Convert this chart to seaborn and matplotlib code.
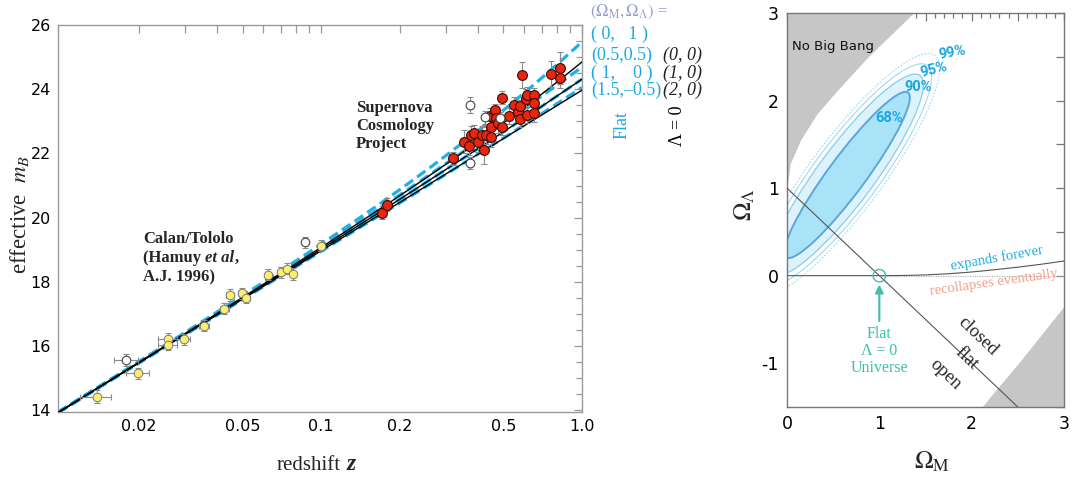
import numpy as np
import pandas as pd
import matplotlib
matplotlib.use("Agg")
import matplotlib.pyplot as plt
import seaborn as sns
from matplotlib.patches import Ellipse
from matplotlib.ticker import FixedLocator, FuncFormatter, MultipleLocator, NullFormatter

# ---------------- data ----------------
# Calan/Tololo supernovae
ct_z = [0.0138, 0.0179, 0.0198, 0.0258, 0.0258, 0.0297, 0.0357, 0.0426, 0.0446,
        0.0497, 0.0516, 0.0625, 0.0703, 0.0743, 0.0783, 0.0871, 0.1000]
ct_m = [14.42, 15.56, 15.15, 16.23, 16.05, 16.22, 16.63, 17.16, 17.59,
        17.65, 17.51, 18.22, 18.30, 18.41, 18.24, 19.23, 19.13]
ct_dm = [0.20, 0.19, 0.18, 0.18, 0.18, 0.17, 0.17, 0.17, 0.18,
         0.17, 0.17, 0.17, 0.17, 0.17, 0.18, 0.17, 0.17]
ct_dz = [0.0019, 0.0019, 0.0020, 0.0022, 0.0022, 0.0016, 0.0016, 0.0016, 0.0016,
         0.0016, 0.0016, 0.0016, 0.0016, 0.0016, 0.0016, 0.0016, 0.0016]
ct_open = [False, True, False, False, False, False, False, False, False,
           False, False, False, False, False, False, True, False]

# Supernova Cosmology Project supernovae
scp_z = [0.171, 0.179, 0.319, 0.352, 0.370, 0.371, 0.371, 0.376, 0.387, 0.398, 0.413,
         0.422, 0.429, 0.426, 0.448, 0.447, 0.445, 0.455, 0.463, 0.470, 0.478,
         0.486, 0.492, 0.494, 0.524, 0.548, 0.569, 0.577, 0.579, 0.589, 0.610,
         0.616, 0.614, 0.653, 0.653, 0.653, 0.759, 0.826, 0.826]
scp_m = [20.15, 20.41, 21.85, 22.37, 22.24, 21.70, 23.52, 22.57, 22.63, 22.35, 22.56,
         22.12, 22.56, 23.12, 22.50, 22.83, 23.18, 23.15, 23.34, 23.10, 22.94,
         23.10, 22.83, 23.73, 23.16, 23.51, 23.28, 23.47, 23.07, 24.45, 23.71,
         23.81, 23.19, 23.83, 23.56, 23.27, 24.48, 24.66, 24.34]
scp_dm = [0.20, 0.20, 0.20, 0.35, 0.30, 0.18, 0.25, 0.30, 0.25, 0.30, 0.30,
          0.45, 0.25, 0.20, 0.30, 0.30, 0.25, 0.25, 0.20, 0.25, 0.30,
          0.20, 0.25, 0.20, 0.25, 0.25, 0.30, 0.20, 0.25, 0.40, 0.30,
          0.25, 0.25, 0.20, 0.25, 0.30, 0.40, 0.50, 0.30]
scp_open = [False, False, False, False, False, True, True, False, False, False, False,
            False, False, True, False, False, False, False, False, False, False,
            True, False, False, False, False, False, False, False, False, False,
            False, False, False, False, False, False, False, False]

# cosmological models (Omega_M, Omega_Lambda)
flat_om = [0.0, 0.5, 1.0, 1.5]
flat_ol = [1.0, 0.5, 0.0, -0.5]
lam0_om = [0.0, 1.0, 2.0]
lam0_ol = [0.0, 0.0, 0.0]
M_SCRIPT = 23.97  # magnitude zero point of the model curves

# confidence regions (ellipse approximations) in (Omega_M, Omega_Lambda)
conf_labels = ["99%", "95%", "90%", "68%"]
conf_cx = [0.64, 0.64, 0.64, 0.65]
conf_cy = [1.15, 1.15, 1.15, 1.15]
conf_a = [1.67, 1.53, 1.39, 1.15]
conf_b = [0.40, 0.36, 0.31, 0.205]
conf_angle = [55, 55, 55, 55]
conf_lab_x = [1.79, 1.59, 1.42, 1.11]
conf_lab_y = [2.55, 2.35, 2.16, 1.80]

# "No Big Bang" boundary
nbb_om = [0.0, 0.036, 0.144, 0.325, 0.54, 0.87, 1.37]
nbb_ol = [1.0, 1.28, 1.545, 1.85, 2.11, 2.49, 3.0]
# lower-right excluded region boundary
lr_om = [2.11, 2.53, 3.0]
lr_ol = [-1.5, -0.97, -0.35]
# expands forever / recollapses boundary
exp_om = [0.0, 1.0, 1.25, 1.5, 1.75, 2.0, 2.25, 2.5, 2.75, 3.0]
exp_ol = [0.0, 0.0, 0.002, 0.0085, 0.022, 0.042, 0.068, 0.097, 0.13, 0.167]
# flat universe line
flatline_om = [0.0, 2.5]
flatline_ol = [1.0, -1.5]

# ---------------- style ----------------
sns.set_theme(style="white")
plt.rcParams["font.family"] = ["DejaVu Sans"]
plt.rcParams["mathtext.fontset"] = "stix"
SERIF = ["Liberation Serif", "DejaVu Serif"]
CYAN = "#1fb0e6"
TXTCYAN = "#1ea9e1"
TEAL = "#3dbfae"
SPINE = "#9a9a9a"

W, H = 1072, 479
fig = plt.figure(figsize=(W / 100, H / 100), dpi=100)
fig.patch.set_facecolor("white")


def fx(x):
    return x / W


def fy(y):
    return 1 - y / H


# ================= left panel =================
ax = fig.add_axes([58 / W, 1 - 412 / H, (582 - 58) / W, (412 - 25) / H])
ax.set_xscale("log")
ax.set_xlim(0.0098, 1.0)
ax.set_ylim(13.95, 26.0)


def model_mag(z, om, ol):
    zf = np.linspace(0, z.max(), 20001)
    ok = 1 - om - ol
    inv = 1 / np.sqrt(om * (1 + zf) ** 3 + ok * (1 + zf) ** 2 + ol)
    dc = np.concatenate([[0], np.cumsum(0.5 * (inv[1:] + inv[:-1]) * np.diff(zf))])
    d = np.interp(z, zf, dc)
    if ok > 1e-9:
        dm = np.sinh(np.sqrt(ok) * d) / np.sqrt(ok)
    elif ok < -1e-9:
        dm = np.sin(np.sqrt(-ok) * d) / np.sqrt(-ok)
    else:
        dm = d
    return M_SCRIPT + 5 * np.log10((1 + z) * dm)


zgrid = np.geomspace(0.0098, 1.0, 300)
for om, ol in zip(flat_om, flat_ol):
    df = pd.DataFrame({"z": zgrid, "m": model_mag(zgrid, om, ol)})
    sns.lineplot(data=df, x="z", y="m", ax=ax, color=CYAN, lw=2.3,
                 dashes=False, linestyle=(0, (3.2, 1.6)), zorder=2)
for om, ol in zip(lam0_om, lam0_ol):
    df = pd.DataFrame({"z": zgrid, "m": model_mag(zgrid, om, ol)})
    sns.lineplot(data=df, x="z", y="m", ax=ax, color="black", lw=1.0, zorder=3)

ct = pd.DataFrame({"z": ct_z, "m": ct_m, "dz": ct_dz, "dm": ct_dm, "open": ct_open})
scp = pd.DataFrame({"z": scp_z, "m": scp_m, "dm": scp_dm, "open": scp_open})

ax.errorbar(ct["z"], ct["m"], xerr=ct["dz"], yerr=ct["dm"], fmt="none",
            ecolor="#8a8a8a", elinewidth=0.8, capsize=2.2, capthick=0.8, zorder=4)
ax.errorbar(scp["z"], scp["m"], yerr=scp["dm"], fmt="none",
            ecolor="#8a8a8a", elinewidth=0.8, capsize=2.5, capthick=0.8, zorder=4)

sns.scatterplot(data=ct[~ct["open"]], x="z", y="m", ax=ax, color="#ffee6e",
                edgecolor="#7a7a7a", linewidth=0.7, s=38, zorder=5)
sns.scatterplot(data=ct[ct["open"]], x="z", y="m", ax=ax, color="white",
                edgecolor="#444444", linewidth=0.8, s=38, zorder=5)
sns.scatterplot(data=scp[~scp["open"]], x="z", y="m", ax=ax, color="#e8250f",
                edgecolor="#3a0a05", linewidth=0.8, s=50, zorder=5)
sns.scatterplot(data=scp[scp["open"]], x="z", y="m", ax=ax, color="white",
                edgecolor="#444444", linewidth=0.8, s=40, zorder=5)

ax.set_xlabel("")
ax.set_ylabel("")
major_x = [0.02, 0.05, 0.1, 0.2, 0.5, 1.0]
ax.xaxis.set_major_locator(FixedLocator(major_x))
ax.xaxis.set_major_formatter(FuncFormatter(
    lambda v, p: {0.02: "0.02", 0.05: "0.05", 0.1: "0.1", 0.2: "0.2", 0.5: "0.5", 1.0: "1.0"}.get(round(v, 3), "")))
minor_x = [0.03, 0.04, 0.06, 0.07, 0.08, 0.09, 0.3, 0.4, 0.6, 0.7, 0.8, 0.9]
ax.xaxis.set_minor_locator(FixedLocator(minor_x))
ax.xaxis.set_minor_formatter(NullFormatter())
ax.yaxis.set_major_locator(MultipleLocator(2))
ax.yaxis.set_minor_locator(MultipleLocator(0.5))
ax.tick_params(axis="both", which="both", direction="in", top=True, right=True,
               color=SPINE, width=0.9)
ax.tick_params(axis="both", which="major", length=6, labelsize=11.5, labelcolor="black", pad=5)
ax.tick_params(axis="x", which="minor", length=6)
ax.tick_params(axis="y", which="minor", length=4)
for s in ax.spines.values():
    s.set_color(SPINE)
    s.set_linewidth(1.0)

# axis labels
fig.text(fx(277), fy(465), "redshift", family=SERIF, fontsize=15, va="center", ha="left")
fig.text(fx(347), fy(465), "z", family=SERIF, fontsize=17, fontweight="bold",
         style="italic", va="center", ha="left")
fig.text(fx(20), fy(214), "effective  $m_B$", family=SERIF, fontsize=16.5, rotation=90,
         va="center", ha="center")

# annotations
fig.text(fx(356), fy(126), "Supernova\nCosmology\nProject", family=SERIF, fontsize=12,
         fontweight="bold", va="center", ha="left", linespacing=1.15)

renderer = fig.canvas.get_renderer()


def run(x, y, pieces):
    for s, kw in pieces:
        t = fig.text(fx(x), fy(y), s, va="center", ha="left", **kw)
        x += t.get_window_extent(renderer).width


bold = dict(family=SERIF, fontsize=12, fontweight="bold")
run(143, 239, [("Calan/Tololo", bold)])
run(143, 258, [("(Hamuy ", bold), ("et al", dict(bold, style="italic")), (",", bold)])
run(143, 277, [("A.J. 1996)", bold)])

# legend text
fig.text(fx(590), fy(12), r"$(\Omega_{\mathrm{M}},\Omega_\Lambda)$ =", family=SERIF,
         fontsize=12, color="#9b9bd6", va="center", ha="left")
cy_lines = ["( 0,   1 )", "(0.5,0.5)", "( 1,    0 )", "(1.5,\u20130.5)"]
cy_y = [34, 55, 73, 90]
for s, y in zip(cy_lines, cy_y):
    fig.text(fx(591), fy(y), s, family=SERIF, fontsize=13, color=TXTCYAN, va="center", ha="left")
bk_lines = ["(0, 0)", "(1, 0)", "(2, 0)"]
bk_y = [55, 73, 90]
for s, y in zip(bk_lines, bk_y):
    fig.text(fx(663), fy(y), s, family=SERIF, fontsize=13, style="italic",
             color="#222222", va="center", ha="left")
fig.text(fx(622), fy(125), "Flat", family=SERIF, fontsize=13, color=TXTCYAN, rotation=90,
         va="center", ha="center")
fig.text(fx(677), fy(126), "\u039b = 0", family=SERIF, fontsize=13, color="black",
         rotation=90, va="center", ha="center")

# ================= right panel =================
ax2 = fig.add_axes([787 / W, 1 - 407 / H, (1064 - 787) / W, (407 - 13) / H])
ax2.set_xlim(0, 3)
ax2.set_ylim(-1.5, 3)

# excluded regions
ax2.fill_between(nbb_om, nbb_ol, 3, color="#c6c6c6", lw=0, zorder=1)
ax2.fill_between(lr_om, -1.5, lr_ol, color="#c6c6c6", lw=0, zorder=1)

# confidence regions
styles = {
    "99%": dict(fc="none", ec="#9fd8f2", lw=0.8, ls=(0, (1.5, 1.5))),
    "95%": dict(fc="none", ec="#9fd8f2", lw=0.8, ls="-"),
    "90%": dict(fc="#dcf3fc", ec="#86cdee", lw=0.9, ls="-"),
    "68%": dict(fc="#a8e3f7", ec="#5fa5da", lw=1.4, ls="-"),
}
for lab, cx, cyy, a, b, ang in zip(conf_labels, conf_cx, conf_cy, conf_a, conf_b, conf_angle):
    st = styles[lab]
    e = Ellipse((cx, cyy), 2 * a, 2 * b, angle=ang, facecolor=st["fc"], edgecolor=st["ec"],
                lw=st["lw"], ls=st["ls"], zorder=2)
    ax2.add_patch(e)
rots = {"99%": 10, "95%": 14, "90%": 0, "68%": 0}
for lab, x, y in zip(conf_labels, conf_lab_x, conf_lab_y):
    ax2.text(x, y, lab, family=["Roboto", "DejaVu Sans"], fontsize=10.5, fontweight="bold",
             color="#1aa7e0", ha="center", va="center", rotation=rots[lab], zorder=6)

# lines
sns.lineplot(x=flatline_om, y=flatline_ol, ax=ax2, color="#555555", lw=0.8, zorder=3)
sns.lineplot(x=exp_om, y=exp_ol, ax=ax2, color="#555555", lw=0.8, zorder=3)
ax2.plot([1.0, 3.0], [0.0, 0.0], color="#aaaaaa", lw=0.8, ls=(0, (1, 1.2)), zorder=3)

# flat Lambda=0 universe marker
ax2.scatter([1.0], [0.0], s=80, facecolors="none", edgecolors=TEAL, linewidths=1.0, zorder=5)
ax2.annotate("", xy=(1.0, -0.07), xytext=(1.0, -0.55),
             arrowprops=dict(arrowstyle="-|>", color=TEAL, lw=1.5, mutation_scale=12), zorder=5)
ax2.text(1.0, -0.86, "Flat\n\u039b = 0\nUniverse", family=SERIF, fontsize=11.5, color=TEAL,
         ha="center", va="center", linespacing=1.05)

ax2.text(2.06, -0.69, "closed", family=SERIF, fontsize=13.5, rotation=-43.6,
         rotation_mode="anchor", ha="center", va="center")
ax2.text(1.95, -0.94, "flat", family=SERIF, fontsize=13.5, rotation=-43.6,
         rotation_mode="anchor", ha="center", va="center")
ax2.text(1.72, -1.13, "open", family=SERIF, fontsize=13.5, rotation=-43.6,
         rotation_mode="anchor", ha="center", va="center")
ax2.text(2.27, 0.20, "expands forever", family=SERIF, fontsize=10.5, color="#22aee3",
         rotation=10, rotation_mode="anchor", ha="center", va="center")
ax2.text(2.24, -0.08, "recollapses eventually", family=SERIF, fontsize=10.5, color="#f4a085",
         rotation=8, rotation_mode="anchor", ha="center", va="center")
ax2.text(0.05, 2.62, "No Big Bang", fontsize=9.5, color="#111111", ha="left", va="center")

ax2.set_xlabel("")
ax2.set_ylabel("")
ax2.xaxis.set_major_locator(MultipleLocator(0.5))
ax2.xaxis.set_minor_locator(MultipleLocator(0.1))
ax2.yaxis.set_major_locator(MultipleLocator(0.5))
intfmt = FuncFormatter(lambda v, p: f"{int(round(v))}" if abs(v - round(v)) < 1e-6 else "")
ax2.xaxis.set_major_formatter(intfmt)
ax2.yaxis.set_major_formatter(intfmt)
ax2.tick_params(axis="both", which="both", direction="in", top=True, right=True,
                color="#777777", width=0.9)
ax2.tick_params(axis="both", which="major", length=6, labelsize=12.5, labelcolor="black", pad=6)
ax2.tick_params(axis="both", which="minor", length=3.5)
for s in ax2.spines.values():
    s.set_color("#777777")
    s.set_linewidth(1.0)

fig.text(fx(745), fy(205), r"$\Omega_\Lambda$", fontsize=18, rotation=90, va="center", ha="center")
fig.text(fx(932), fy(462), r"$\Omega_{\mathrm{M}}$", fontsize=18, va="center", ha="center")

fig.savefig("out.png", dpi=100, facecolor="white")
